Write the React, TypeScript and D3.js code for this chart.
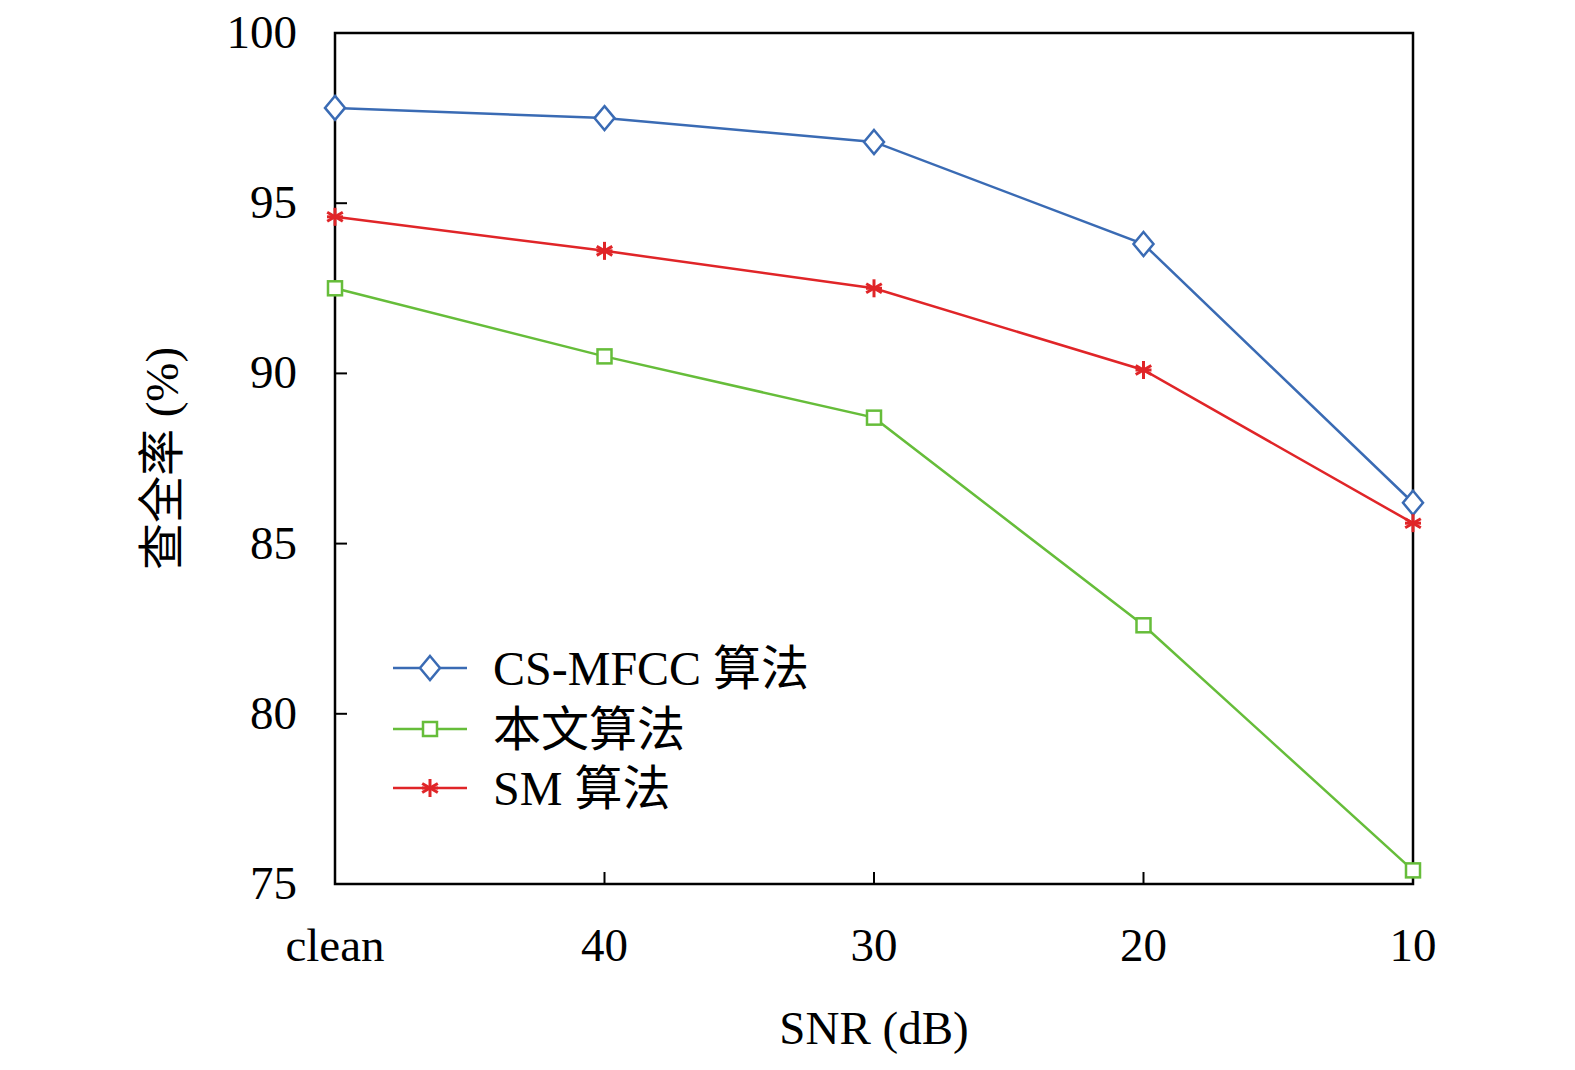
import { useEffect, useRef } from 'react';
import * as d3 from 'd3';

const categories = ['clean', '40', '30', '20', '10'];
const csMfcc = [97.8, 97.5, 96.8, 93.8, 86.2];
const ours = [92.5, 90.5, 88.7, 82.6, 75.4];
const sm = [94.6, 93.6, 92.5, 90.1, 85.6];
const yTicks = [75, 80, 85, 90, 95, 100];

const series = [
  { name: 'CS-MFCC 算法', values: csMfcc, color: '#3a6bb4', marker: 'diamond' },
  { name: '本文算法', values: ours, color: '#66bd3a', marker: 'square' },
  { name: 'SM 算法', values: sm, color: '#e02528', marker: 'star' },
];

const serif = '"Liberation Serif", "Times New Roman", serif';
const cjk = '"Liberation Serif", "Noto Sans CJK SC", serif';

export default function App() {
  const svgRef = useRef<SVGSVGElement>(null);

  useEffect(() => {
    document.body.style.margin = '0';
    if (!svgRef.current) return;
    const svg = d3.select(svgRef.current);
    svg.selectAll('*').remove();

    const left = 335, right = 1413, top = 33, bottom = 884;
    const x = d3.scalePoint<string>().domain(categories).range([left, right]);
    const y = d3.scaleLinear().domain([75, 100]).range([bottom, top]);

    // frame
    svg.append('rect')
      .attr('x', left).attr('y', top)
      .attr('width', right - left).attr('height', bottom - top)
      .attr('fill', 'none').attr('stroke', '#000').attr('stroke-width', 2.5);

    // y axis ticks
    yTicks.forEach((t) => {
      svg.append('line')
        .attr('x1', left).attr('x2', left + 12)
        .attr('y1', y(t)).attr('y2', y(t))
        .attr('stroke', '#000').attr('stroke-width', 2);
      svg.append('text')
        .attr('x', left - 38).attr('y', y(t) + 15)
        .attr('text-anchor', 'end')
        .attr('font-family', serif).attr('font-size', 47)
        .text(t);
    });

    // x axis ticks
    categories.forEach((c) => {
      svg.append('line')
        .attr('x1', x(c)!).attr('x2', x(c)!)
        .attr('y1', bottom).attr('y2', bottom - 12)
        .attr('stroke', '#000').attr('stroke-width', 2);
      svg.append('text')
        .attr('x', x(c)!).attr('y', 961)
        .attr('text-anchor', 'middle')
        .attr('font-family', serif).attr('font-size', 47)
        .text(c);
    });

    // axis titles
    svg.append('text')
      .attr('x', (left + right) / 2).attr('y', 1044)
      .attr('text-anchor', 'middle')
      .attr('font-family', serif).attr('font-size', 47)
      .text('SNR (dB)');
    svg.append('text')
      .attr('transform', `translate(178,${(top + bottom) / 2}) rotate(-90)`)
      .attr('text-anchor', 'middle')
      .attr('font-family', cjk).attr('font-size', 47)
      .text('查全率 (%)');

    const drawMarker = (g: d3.Selection<SVGGElement, unknown, null, undefined>, kind: string, cx: number, cy: number, color: string) => {
      if (kind === 'diamond') {
        g.append('path')
          .attr('d', `M${cx},${cy - 12}L${cx + 10},${cy}L${cx},${cy + 12}L${cx - 10},${cy}Z`)
          .attr('fill', 'white').attr('stroke', color).attr('stroke-width', 2.5);
      } else if (kind === 'square') {
        g.append('rect')
          .attr('x', cx - 7).attr('y', cy - 7).attr('width', 14).attr('height', 14)
          .attr('fill', 'white').attr('stroke', color).attr('stroke-width', 2.5);
      } else {
        [0, 60, 120].forEach((a) => {
          const r = (a * Math.PI) / 180;
          g.append('line')
            .attr('x1', cx - 9 * Math.sin(r)).attr('y1', cy - 9 * Math.cos(r))
            .attr('x2', cx + 9 * Math.sin(r)).attr('y2', cy + 9 * Math.cos(r))
            .attr('stroke', color).attr('stroke-width', 3);
        });
        g.append('line')
          .attr('x1', cx - 8).attr('x2', cx + 8).attr('y1', cy).attr('y2', cy)
          .attr('stroke', color).attr('stroke-width', 3);
      }
    };

    const line = d3.line<number>()
      .x((_, i) => x(categories[i])!)
      .y((d) => y(d));

    series.forEach((s) => {
      const g = svg.append('g');
      g.append('path')
        .attr('d', line(s.values))
        .attr('fill', 'none').attr('stroke', s.color).attr('stroke-width', 2.5);
      s.values.forEach((v, i) => drawMarker(g, s.marker, x(categories[i])!, y(v), s.color));
    });

    // legend
    const legendY = [668, 729, 788];
    series.forEach((s, i) => {
      const g = svg.append('g');
      g.append('line')
        .attr('x1', 393).attr('x2', 467).attr('y1', legendY[i]).attr('y2', legendY[i])
        .attr('stroke', s.color).attr('stroke-width', 2.5);
      drawMarker(g, s.marker, 430, legendY[i], s.color);
      g.append('text')
        .attr('x', 493).attr('y', legendY[i] + 17)
        .attr('font-family', cjk).attr('font-size', 48)
        .text(s.name);
    });
  }, []);

  return <svg ref={svgRef} width={1575} height={1070} style={{ display: 'block', background: 'white' }} />;
}
